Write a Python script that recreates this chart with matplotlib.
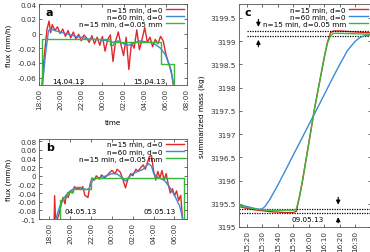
import matplotlib
matplotlib.use("Agg")
import matplotlib.pyplot as plt
from matplotlib.ticker import FormatStrFormatter

plt.rcParams["font.family"] = ["DejaVu Sans"]
plt.rcParams["axes.unicode_minus"] = False

RED = "#e02828"
BLUE = "#3a8ad8"
GREEN = "#38b838"

labels = ["n=15 min, d=0", "n=60 min, d=0", "n=15 min, d=0.05 mm"]

# ---- panel a (hours after 18:00, 14.04.13) ----
a_red_h = [0.25, 0.5, 0.75, 0.95, 1.1, 1.25, 1.5, 1.75, 2.0, 2.25, 2.5, 2.75, 3.0,
           3.25, 3.5, 3.75, 4.0, 4.25, 4.5, 4.75, 5.0, 5.25, 5.5, 5.75, 6.0, 6.25,
           6.5, 6.75, 7.0, 7.25, 7.5, 7.75, 8.0, 8.25, 8.5, 8.75, 9.0, 9.25, 9.5,
           9.75, 10.0, 10.25, 10.5, 10.75, 11.0, 11.25, 11.5, 11.75, 12.0, 12.25,
           12.5, 12.75]
a_red_v = [-0.075, -0.03, 0.005, 0.017, 0.001, 0.012, 0.004, 0.009, 0.0, 0.006,
           -0.004, 0.004, -0.006, 0.002, -0.008, -0.001, -0.010, -0.002, -0.006,
           -0.012, -0.003, -0.014, -0.005, -0.016, -0.004, -0.024, -0.008, -0.002,
           -0.038, -0.010, 0.002, -0.015, -0.030, -0.005, -0.049, -0.012, -0.020,
           0.005, -0.022, -0.008, 0.008, -0.012, -0.005, -0.018, -0.008, -0.014,
           -0.004, -0.010, -0.028, -0.040, -0.050, -0.075]
a_blue_h = [0.3, 0.6, 0.9, 1.2, 1.5, 2.0, 2.5, 3.0, 3.5, 4.0, 4.5, 5.0, 5.5, 6.0,
            6.5, 7.0, 7.5, 8.0, 8.5, 9.0, 9.5, 10.0, 10.5, 11.0, 11.5, 12.0,
            12.3, 12.6, 12.8]
a_blue_v = [-0.075, -0.03, 0.004, 0.006, 0.004, 0.002, 0.0, -0.002, -0.004, -0.005,
            -0.007, -0.008, -0.008, -0.009, -0.010, -0.012, -0.010, -0.014,
            -0.016, -0.013, -0.010, -0.011, -0.012, -0.015, -0.020, -0.030,
            -0.042, -0.058, -0.075]
a_green_h = [0.25, 0.25, 6.75, 6.75, 7.0, 7.0, 11.5, 11.5, 12.8, 12.8]
a_green_v = [-0.075, -0.008, -0.008, -0.016, -0.016, -0.011, -0.011, -0.042, -0.042, -0.075]

# ---- panel b (hours after 18:00, 04.05.13) ----
b_red_h = [0.45, 0.5, 0.6, 0.9, 1.1, 1.3, 1.5, 1.6, 1.8, 2.0, 2.2, 2.4, 2.6, 2.8,
           3.0, 3.2, 3.4, 3.7, 3.9, 4.1, 4.3, 4.5, 4.8, 5.0, 5.3, 5.5, 5.8, 6.0,
           6.3, 6.5, 6.8, 7.0, 7.3, 7.5, 7.8, 8.0, 8.3, 8.5, 8.8, 9.0, 9.2, 9.4,
           9.6, 9.8, 10.0, 10.2, 10.4, 10.6, 10.8, 11.0, 11.2, 11.4, 11.6, 11.8,
           12.0, 12.2, 12.4, 12.6, 12.8]
b_red_v = [-0.11, -0.046, -0.11, -0.09, -0.07, -0.05, -0.065, -0.045, -0.05,
           -0.035, -0.04, -0.025, -0.03, -0.028, -0.032, -0.025, -0.045, -0.05,
           -0.02, -0.005, -0.01, 0.0, -0.008, 0.002, -0.005, 0.0, 0.008, 0.012,
           0.005, 0.015, 0.008, -0.005, -0.028, -0.01, 0.005, 0.0, 0.015, 0.01,
           0.02, 0.025, 0.015, 0.03, 0.045, 0.046, 0.01, -0.01, 0.01, -0.005,
           0.012, -0.01, 0.005, -0.02, -0.04, -0.03, -0.046, -0.035, -0.057,
           -0.045, -0.11]
b_blue_h = [0.5, 0.8, 1.0, 1.3, 1.6, 2.0, 2.5, 3.0, 3.5, 3.8, 4.1, 4.5, 5.0, 5.5,
            6.0, 6.5, 7.0, 7.3, 7.6, 8.0, 8.5, 9.0, 9.5, 9.8, 10.0, 10.5, 11.0,
            11.5, 12.0, 12.5, 12.9]
b_blue_v = [-0.11, -0.085, -0.07, -0.055, -0.045, -0.035, -0.027, -0.027, -0.032,
            -0.03, -0.012, -0.006, -0.003, 0.0, 0.005, 0.004, -0.005, -0.012,
            -0.004, 0.005, 0.01, 0.015, 0.028, 0.022, 0.005, -0.005, -0.01,
            -0.025, -0.045, -0.07, -0.11]
b_green_h = [1.0, 1.0, 1.3, 1.3, 1.7, 1.7, 2.3, 2.3, 4.0, 4.0, 12.87, 12.87]
b_green_v = [-0.11, -0.057, -0.057, -0.049, -0.049, -0.038, -0.038, -0.030,
             -0.030, -0.006, -0.006, -0.11]

ab_tick_h = [0, 2, 4, 6, 8, 10, 12, 14]
ab_tick_lab = ["18:00", "20:00", "22:00", "00:00", "02:00", "04:00", "06:00", "08:00"]

# ---- panel c (minutes after 15:00, 09.05.13) ----
c_red_m = [15, 20, 25, 30, 35, 40, 45, 50, 52, 54, 56, 58, 60, 62, 64, 66, 68, 70,
           72, 74, 76, 80, 90, 100]
c_red_v = [3195.44, 3195.40, 3195.37, 3195.35, 3195.33, 3195.32, 3195.31, 3195.31,
           3195.34, 3195.65, 3196.0, 3196.4, 3196.8, 3197.2, 3197.6, 3197.95,
           3198.3, 3198.65, 3198.97, 3199.18, 3199.22, 3199.22, 3199.20, 3199.18]
c_blue_m = [15, 20, 25, 28, 30, 32, 35, 40, 45, 50, 55, 60, 65, 70, 75, 80, 85, 90,
            93, 96, 100]
c_blue_v = [3195.48, 3195.44, 3195.40, 3195.38, 3195.39, 3195.45, 3195.6, 3195.9,
            3196.22, 3196.55, 3196.87, 3197.2, 3197.52, 3197.85, 3198.18, 3198.5,
            3198.8, 3199.0, 3199.08, 3199.12, 3199.13]
c_green_m = [15, 20, 25, 30, 35, 40, 45, 50, 52, 54, 56, 58, 60, 62, 64, 66, 68, 70,
             72, 74, 76, 80, 90, 100]
c_green_v = [3195.46, 3195.42, 3195.39, 3195.37, 3195.36, 3195.36, 3195.36, 3195.36,
             3195.38, 3195.65, 3196.0, 3196.4, 3196.8, 3197.2, 3197.6, 3197.95,
             3198.3, 3198.65, 3198.95, 3199.12, 3199.17, 3199.17, 3199.16, 3199.15]
c_tick_m = [20, 30, 40, 50, 60, 70, 80, 90]
c_tick_lab = ["15:20", "15:30", "15:40", "15:50", "16:00", "16:10", "16:20", "16:30"]
c_upper_lines = [3199.21, 3199.12]
c_lower_lines = [3195.39, 3195.30]

FS = 5.2


def style_axes(ax):
    ax.tick_params(direction="in", top=True, right=True, labelsize=FS,
                   length=2.5, width=0.5, colors="#333333", pad=2)
    for s in ax.spines.values():
        s.set_linewidth(0.6)
        s.set_color("#555555")


def legend(ax):
    ax.legend(loc="upper right", frameon=False, markerfirst=False, fontsize=FS,
              handlelength=2.6, labelspacing=0.15, borderaxespad=0.15,
              handletextpad=0.5, borderpad=0.2)


fig = plt.figure(figsize=(3.7, 2.53), dpi=100)

axa = fig.add_axes([0.1054, 0.660, 0.400, 0.320])
axb = fig.add_axes([0.1054, 0.130, 0.400, 0.317])
axc = fig.add_axes([0.6460, 0.099, 0.356, 0.881])

for ax, (rh, rv, bh, bv, gh, gv) in [
    (axa, (a_red_h, a_red_v, a_blue_h, a_blue_v, a_green_h, a_green_v)),
    (axb, (b_red_h, b_red_v, b_blue_h, b_blue_v, b_green_h, b_green_v)),
]:
    ax.plot(rh, rv, color=RED, lw=1.0, label=labels[0])
    ax.plot(bh, bv, color=BLUE, lw=1.0, label=labels[1])
    ax.plot(gh, gv, color=GREEN, lw=1.0, label=labels[2])
    ax.set_xticks(ab_tick_h)
    ax.set_xticklabels(ab_tick_lab, rotation=90)
    ax.yaxis.set_major_formatter(FormatStrFormatter("%g"))
    ax.set_ylabel("flux (mm/h)", fontsize=FS, labelpad=4)
    style_axes(ax)
    legend(ax)

axa.set_xlim(0, 14)
axa.set_ylim(-0.07, 0.04)
axa.set_yticks([-0.06, -0.04, -0.02, 0, 0.02, 0.04])
axa.set_xlabel("time", fontsize=FS, labelpad=7)
axa.text(0.045, 0.9, "a", transform=axa.transAxes, fontsize=8, fontweight="bold", va="center")
axa.text(2.75, -0.064, "14.04.13", fontsize=FS, ha="center", va="center")
axa.text(10.4, -0.064, "15.04.13", fontsize=FS, ha="center", va="center")

axb.set_xlim(-1.0, 13.2)
axb.set_ylim(-0.1, 0.085)
axb.set_yticks([-0.1, -0.08, -0.06, -0.04, -0.02, 0, 0.02, 0.04, 0.06, 0.08])
axb.text(0.045, 0.9, "b", transform=axb.transAxes, fontsize=8, fontweight="bold", va="center")
axb.text(3.0, -0.081, "04.05.13", fontsize=FS, ha="center", va="center")
axb.text(10.6, -0.081, "05.05.13", fontsize=FS, ha="center", va="center")

# panel c: green drawn over red on the steep rise
axc.plot(c_red_m, c_red_v, color=RED, lw=1.0, label=labels[0], zorder=2)
axc.plot(c_blue_m, c_blue_v, color=BLUE, lw=1.0, label=labels[1], zorder=3)
axc.plot(c_green_m, c_green_v, color=GREEN, lw=1.0, label=labels[2], zorder=4)
for v in c_upper_lines:
    axc.plot([20, 100], [v, v], color="black", lw=0.9, ls=(0, (1, 1)))
for v in c_lower_lines:
    axc.plot([15, 100], [v, v], color="black", lw=0.9, ls=(0, (1, 1)))
arrow = dict(arrowstyle="-|>", color="black", lw=0.8, mutation_scale=6)
axc.annotate("", xy=(27.5, 3199.25), xytext=(27.5, 3199.53), arrowprops=arrow)
axc.annotate("", xy=(27.5, 3199.09), xytext=(27.5, 3198.82), arrowprops=arrow)
axc.annotate("", xy=(79, 3195.42), xytext=(79, 3195.70), arrowprops=arrow)
axc.annotate("", xy=(79, 3195.27), xytext=(79, 3195.03), arrowprops=arrow)
axc.text(59, 3195.17, "09.05.13", fontsize=FS, ha="center", va="center")
axc.set_xlim(15, 100)
axc.set_ylim(3195, 3199.8)
axc.set_xticks(c_tick_m)
axc.set_xticklabels(c_tick_lab, rotation=90)
axc.set_yticks([3195, 3195.5, 3196, 3196.5, 3197, 3197.5, 3198, 3198.5, 3199, 3199.5])
axc.yaxis.set_major_formatter(FormatStrFormatter("%g"))
axc.set_ylabel("summarized mass (kg)", fontsize=FS, labelpad=4)
axc.text(0.045, 0.965, "c", transform=axc.transAxes, fontsize=8, fontweight="bold", va="center")
style_axes(axc)
legend(axc)

fig.savefig("out.png", dpi=100)
